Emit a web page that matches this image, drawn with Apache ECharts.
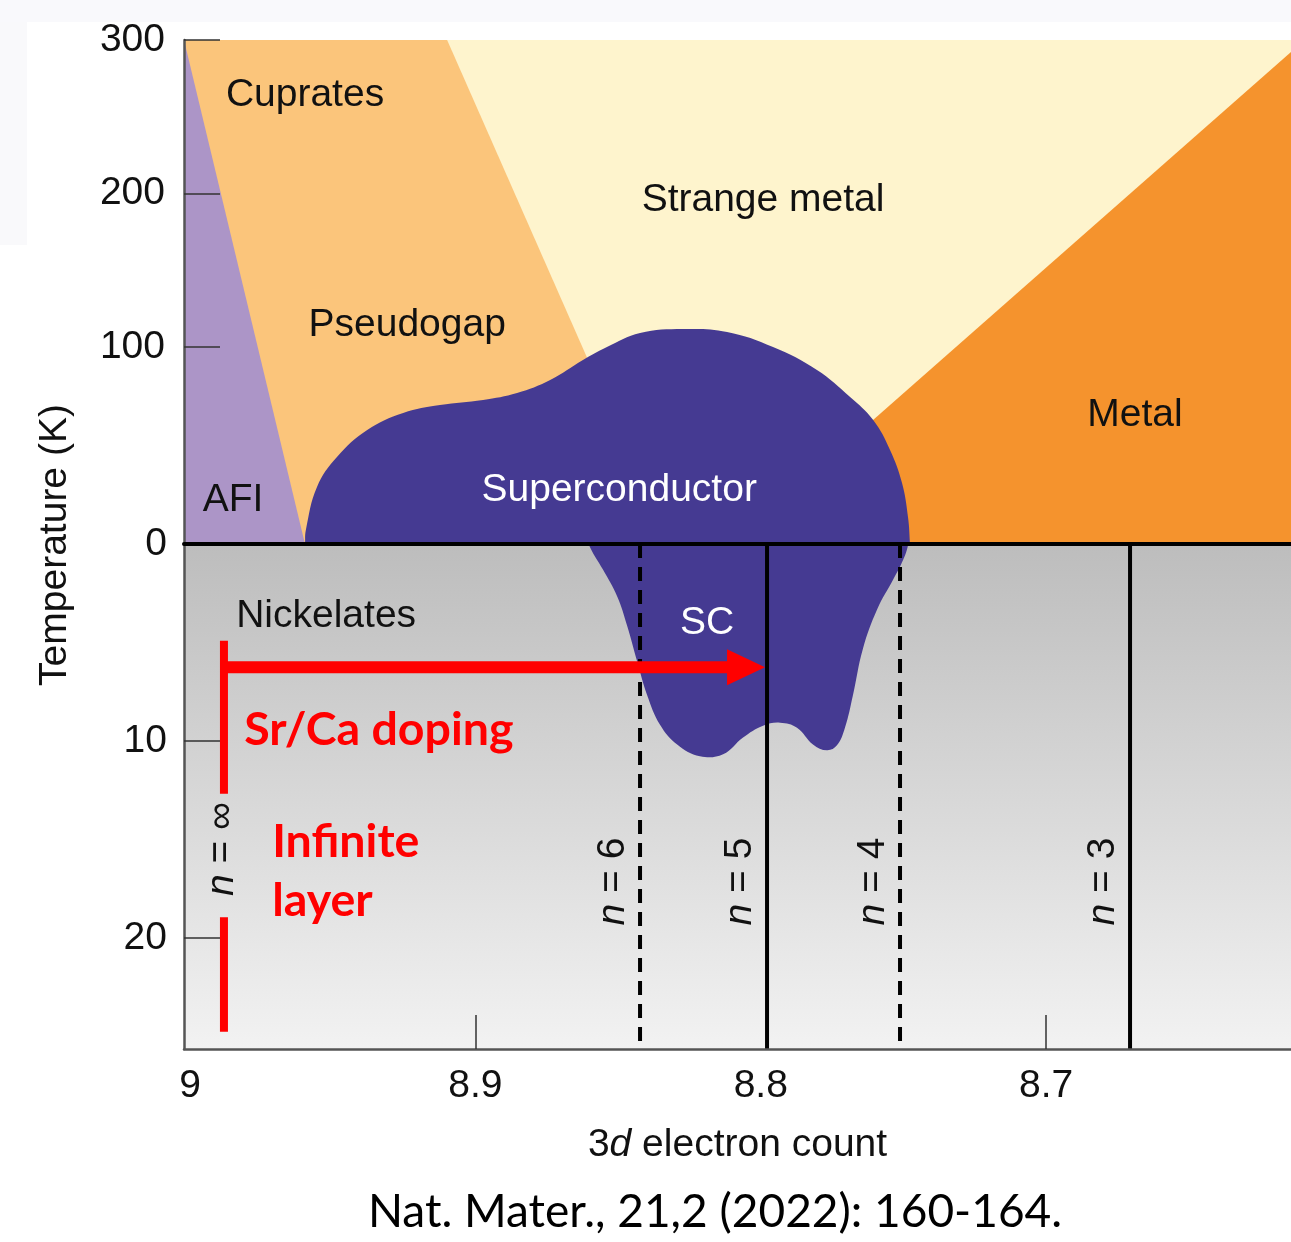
<!DOCTYPE html>
<html>
<head>
<meta charset="utf-8">
<title>Cuprate and nickelate phase diagram</title>
<script src="https://cdn.jsdelivr.net/npm/echarts@6/dist/echarts.min.js"></script>
<style>
  html, body { margin: 0; padding: 0; background: #ffffff; }
  #chart { width: 1291px; height: 1242px; }
</style>
</head>
<body>
<div id="chart"></div>
<script>
// ---------- axis ticks ----------
const electronTicks = [9, 8.9, 8.8, 8.7];
const electronTickMarks = [8.9, 8.7];
const cuprateTempTicks = [100, 200, 300];
const nickelateTempTicks = [0, 10, 20];
const nickelateTickMarks = [10, 20];

// axis extents
const X_MAX = 9.0021, X_MIN = 8.6142;
const T_TOP = 300, T_FLOOR = -28.3;   // upper panel (cuprates), K
const N_BOTTOM = 25.63;               // lower panel (nickelates), K, 0 at the top

// ---------- cuprate phase regions: [3d electron count, T (K)] ----------
const strangeMetalRegion = [[9.0021, 300], [8.6142, 300], [8.6142, -28.3], [9.0021, -28.3]];
const pseudogapRegion = [[9.0021, 300], [8.9099, 300], [8.8321, -28.3], [9.0021, -28.3]];
const metalRegion = [[8.6142, 292.2], [8.6142, -28.3], [8.8100, -28.3]];
const afiRegion = [[9.0021, 300], [8.9597, -28.3], [9.0021, -28.3]];
const cuprateScDome = [
  [8.9600, -40], [8.9597, -28.3], [8.9594, -19.2], [8.9555, 8.8], [8.9485, 28.3],
  [8.9379, 45.9], [8.9253, 57.0], [8.9124, 62.2], [8.8973, 65.5], [8.8854, 70.0],
  [8.8738, 78.5], [8.8623, 91.5], [8.8539, 100.0], [8.8423, 109.1], [8.8272, 111.7],
  [8.8118, 109.8], [8.7957, 100.0], [8.7803, 85.0], [8.7687, 67.4], [8.7606, 52.4],
  [8.7547, 32.9], [8.7505, 11.4], [8.7484, -10.8], [8.7477, -28.3], [8.7474, -40]
];

// ---------- nickelate superconducting region: [3d electron count, T (K)] ----------
const nickelateScDome = [
  [8.8630, -3], [8.8623, -1.0], [8.8602, 0.05], [8.8553, 1.30], [8.8503, 2.66],
  [8.8468, 4.16], [8.8433, 5.96], [8.8398, 7.67], [8.8353, 9.17], [8.8293, 10.17],
  [8.8213, 10.77], [8.8132, 10.67], [8.8062, 9.82], [8.7992, 9.22], [8.7932, 9.07],
  [8.7873, 9.32], [8.7817, 10.17], [8.7768, 10.47], [8.7733, 10.22], [8.7705, 9.32],
  [8.7677, 7.67], [8.7642, 5.31], [8.7592, 3.31], [8.7536, 1.80], [8.7501, 0.80],
  [8.7484, 0.05], [8.7477, -1.0], [8.7470, -3]
];

// ---------- layered nickelates Nd(n+1)Ni(n)O(2n+2) ----------
const layerN = ['6', '5', '4', '3'];
const layerX = [8.8423, 8.7978, 8.7512, 8.6706];
const dashedLayers = ['6', '4'];
const layerLabelT = 17.13;

const infiniteLayerX = 8.9881;
const infiniteLayerSpans = [[4.91, 12.68], [18.94, 24.75]];
const infiniteLabelT = 15.48;

const dopingArrowX = [8.9881, 8.7985];
const dopingArrowT = 6.26;

// ---------- region names ----------
const cuprateLabelText = ['Cuprates', 'Strange metal', 'Pseudogap', 'AFI', 'Superconductor', 'Metal'];
const cuprateLabelPos = [[8.9597, 264.2], [8.7992, 195.8], [8.9239, 114.3], [8.9849, 0.3], [8.8496, 6.8], [8.6689, 55.7]];
const nickelateLabelText = ['Nickelates', 'SC'];
const nickelateLabelPos = [[8.9523, 3.66], [8.8188, 4.01]];
const noteText = ['Sr/Ca doping', 'Infinite\nlayer'];
const notePos = [[8.9810, 9.42], [8.9712, 16.61]];

// ---------- styling ----------
const FIG_FONT = '"Liberation Sans", Arial, Helvetica, sans-serif';
const NOTE_FONT = 'Lato, "Open Sans", sans-serif';
const INK = '#111111';
const RED = '#ff0000';
const WHITE_LABELS = ['Superconductor', 'SC'];

function regionSeries(pts, fill, gridIdx, smooth, z) {
  return {
    type: 'custom', xAxisIndex: gridIdx, yAxisIndex: gridIdx,
    clip: true, silent: true, z: z,
    data: [pts[0]],
    renderItem: function (params, api) {
      return {
        type: 'polygon',
        shape: { points: pts.map(function (p) { return api.coord(p); }), smooth: smooth || 0 },
        style: { fill: fill }
      };
    }
  };
}

function nameSeries(gridIdx, texts, positions) {
  return {
    type: 'custom', xAxisIndex: gridIdx, yAxisIndex: gridIdx, silent: true, z: 8,
    data: positions,
    renderItem: function (params, api) {
      const t = texts[params.dataIndex];
      const c = api.coord(positions[params.dataIndex]);
      return {
        type: 'text', x: c[0], y: c[1],
        style: {
          text: t, fill: WHITE_LABELS.indexOf(t) >= 0 ? '#ffffff' : INK,
          fontSize: 39, fontFamily: FIG_FONT, align: 'center', verticalAlign: 'middle'
        }
      };
    }
  };
}

function layerLabelStyle(n) {
  return {
    text: '{i|n} = ' + n, fill: INK, fontSize: 39, fontFamily: FIG_FONT,
    align: 'center', verticalAlign: 'middle',
    rich: { i: { fontStyle: 'italic', fontSize: 39, fontFamily: FIG_FONT, fill: INK } }
  };
}

const chart = echarts.init(document.getElementById('chart'), null, { renderer: 'canvas' });

const axisText = { fontSize: 39, color: INK, fontFamily: FIG_FONT };

const option = {
  animation: false,
  backgroundColor: '#ffffff',
  grid: [
    { left: 184, top: 40, right: 0, height: 504, show: false },
    {
      left: 184, top: 544, right: 0, height: 505, show: true, borderWidth: 0,
      backgroundColor: new echarts.graphic.LinearGradient(0, 0, 0, 1, [
        { offset: 0, color: '#bdbdbd' }, { offset: 1, color: '#f2f2f2' }
      ])
    }
  ],
  xAxis: [
    {
      gridIndex: 0, type: 'value', inverse: true, min: X_MIN, max: X_MAX, z: 10,
      axisLine: { show: true, onZero: false, lineStyle: { color: '#000000', width: 4 } },
      axisTick: { show: false }, axisLabel: { show: false }, splitLine: { show: false }
    },
    {
      gridIndex: 1, type: 'value', inverse: true, min: X_MIN, max: X_MAX, z: 10,
      axisLine: { show: true, onZero: false, lineStyle: { color: '#555555', width: 2.5 } },
      axisTick: { show: true, inside: true, length: 34, customValues: electronTickMarks,
        lineStyle: { color: '#333333', width: 1.5 } },
      axisLabel: Object.assign({ customValues: electronTicks, margin: 18,
        formatter: function (v) { return String(+(+v).toFixed(1)); } }, axisText),
      splitLine: { show: false },
      name: '3{i|d} electron count', nameLocation: 'middle', nameGap: 77,
      nameTextStyle: {
        fontSize: 39, color: INK, fontFamily: FIG_FONT,
        rich: { i: { fontStyle: 'italic', fontSize: 39, color: INK, fontFamily: FIG_FONT } }
      }
    }
  ],
  yAxis: [
    {
      gridIndex: 0, type: 'value', min: T_FLOOR, max: T_TOP, z: 10,
      axisLine: { show: true, onZero: false, lineStyle: { color: '#555555', width: 2.5 } },
      axisTick: { show: true, inside: true, length: 36, customValues: cuprateTempTicks,
        lineStyle: { color: '#333333', width: 1.5 } },
      axisLabel: Object.assign({ customValues: cuprateTempTicks, margin: 19 }, axisText),
      splitLine: { show: false }
    },
    {
      gridIndex: 1, type: 'value', inverse: true, min: 0, max: N_BOTTOM, z: 10,
      axisLine: { show: true, onZero: false, lineStyle: { color: '#555555', width: 2.5 } },
      axisTick: { show: true, inside: true, length: 36, customValues: nickelateTickMarks,
        lineStyle: { color: '#333333', width: 1.5 } },
      axisLabel: Object.assign({ customValues: nickelateTempTicks, margin: 17 }, axisText),
      splitLine: { show: false }
    }
  ],
  graphic: [
    { type: 'rect', z: -1, shape: { x: 0, y: 0, width: 1291, height: 22 }, style: { fill: '#f9f9fc' } },
    { type: 'rect', z: -1, shape: { x: 0, y: 22, width: 27, height: 223 }, style: { fill: '#f9f9fb' } },
    {
      type: 'text', x: 55, y: 545, rotation: Math.PI / 2,
      style: { text: 'Temperature (K)', fill: INK, fontSize: 39, fontFamily: FIG_FONT,
        align: 'center', verticalAlign: 'middle' }
    },
    {
      type: 'text', x: 715, y: 1212,
      style: { text: 'Nat. Mater., 21,2 (2022): 160-164.', fill: '#000000', fontSize: 46,
        fontFamily: NOTE_FONT, align: 'center', verticalAlign: 'middle' }
    }
  ],
  series: [
    // cuprate panel
    regionSeries(strangeMetalRegion, '#fef4cd', 0, 0, 1),
    regionSeries(pseudogapRegion, '#fbc57b', 0, 0, 2),
    regionSeries(metalRegion, '#f5932d', 0, 0, 2),
    regionSeries(afiRegion, '#ac95c7', 0, 0, 3),
    regionSeries(cuprateScDome, '#453a92', 0, 0.4, 4),
    nameSeries(0, cuprateLabelText, cuprateLabelPos),

    // nickelate panel
    regionSeries(nickelateScDome, '#453a92', 1, 0.4, 4),
    {
      type: 'custom', xAxisIndex: 1, yAxisIndex: 1, silent: true, z: 6,
      data: layerX.map(function (x) { return [x, 0]; }),
      renderItem: function (params, api) {
        const i = params.dataIndex;
        const top = api.coord([layerX[i], 0]);
        const bottom = api.coord([layerX[i], N_BOTTOM]);
        const lab = api.coord([layerX[i], layerLabelT]);
        const dashed = dashedLayers.indexOf(layerN[i]) >= 0;
        return {
          type: 'group',
          children: [
            { type: 'line', shape: { x1: top[0], y1: top[1], x2: bottom[0], y2: bottom[1] },
              style: { stroke: '#000000', lineWidth: 4, lineDash: dashed ? [14, 9] : null } },
            { type: 'text', x: lab[0] - 27, y: lab[1], rotation: Math.PI / 2,
              style: layerLabelStyle(layerN[i]) }
          ]
        };
      }
    },
    {
      // infinite-layer marker
      type: 'custom', xAxisIndex: 1, yAxisIndex: 1, silent: true, z: 7,
      data: [[infiniteLayerX, infiniteLabelT]],
      renderItem: function (params, api) {
        const kids = infiniteLayerSpans.map(function (s) {
          const a = api.coord([infiniteLayerX, s[0]]);
          const b = api.coord([infiniteLayerX, s[1]]);
          return { type: 'line', shape: { x1: a[0], y1: a[1], x2: b[0], y2: b[1] },
            style: { stroke: RED, lineWidth: 8 } };
        });
        const lab = api.coord([infiniteLayerX, infiniteLabelT]);
        kids.push({ type: 'text', x: lab[0] - 2, y: lab[1], rotation: Math.PI / 2,
          style: layerLabelStyle('\u221e') });
        return { type: 'group', children: kids };
      }
    },
    {
      // doping arrow
      type: 'custom', xAxisIndex: 1, yAxisIndex: 1, silent: true, z: 7,
      data: [[dopingArrowX[0], dopingArrowT]],
      renderItem: function (params, api) {
        const s = api.coord([dopingArrowX[0], dopingArrowT]);
        const e = api.coord([dopingArrowX[1], dopingArrowT]);
        const y = s[1], bx = e[0] - 38;
        return {
          type: 'polygon',
          shape: { points: [[s[0], y - 6], [bx, y - 6], [bx, y - 18], [e[0], y],
            [bx, y + 18], [bx, y + 6], [s[0], y + 6]] },
          style: { fill: RED }
        };
      }
    },
    nameSeries(1, nickelateLabelText, nickelateLabelPos),
    {
      type: 'custom', xAxisIndex: 1, yAxisIndex: 1, silent: true, z: 8,
      data: notePos,
      renderItem: function (params, api) {
        const c = api.coord(notePos[params.dataIndex]);
        return {
          type: 'text', x: c[0], y: c[1],
          style: { text: noteText[params.dataIndex], fill: RED, fontSize: 46.5, fontWeight: 'bold',
            fontFamily: NOTE_FONT, lineHeight: 59, align: 'left', verticalAlign: 'middle' }
        };
      }
    }
  ]
};

chart.setOption(option);
</script>
</body>
</html>
